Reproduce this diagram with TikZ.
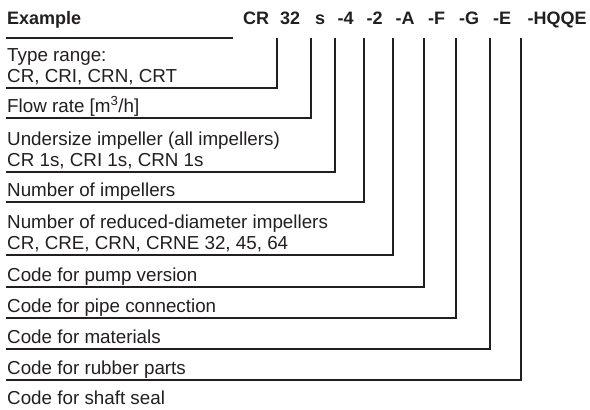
\documentclass[tikz,border=0pt]{standalone}
\usepackage{fontspec}
\setmainfont{Liberation Sans}
\definecolor{ink}{HTML}{231F20}
\begin{document}
\begin{tikzpicture}[x=1pt,y=-1pt,
  lbl/.style={anchor=base west, inner sep=0pt, font=\fontsize{18.8}{21}\selectfont, text=ink, align=left},
  hdr/.style={anchor=base west, inner sep=0pt, font=\fontsize{18}{21}\selectfont\bfseries, text=ink},
  sep/.style={draw=ink, line width=2pt, line join=miter}]
\useasboundingbox (0,0) rectangle (590,410);
\fill[white] (0,0) rectangle (590,410);

% header
\node[hdr] (ex) at (7,24) {Example};
\node[hdr] (kCR) at (243,24) {CR};
\node[hdr] (k32) at (280,24) {32};
\node[hdr] (ks) at (315,24) {s};
\node[hdr] (k4) at (337.5,24) {-4};
\node[hdr] (k2) at (366.5,24) {-2};
\node[hdr] (kA) at (395.5,24) {-A};
\node[hdr] (kF) at (428,24) {-F};
\node[hdr] (kG) at (459,24) {-G};
\node[hdr] (kE) at (493,24) {-E};
\node[hdr] (kH) at (527.5,24) {-HQQE};

% labels
\node[lbl] (r1) at (7,82) {Type range:\\CR, CRI, CRN, CRT};
\node[lbl] (r2) at (7,112) {Flow rate [m\textsuperscript{3}/h]};
\node[lbl] (r3) at (7,166) {Undersize impeller (all impellers)\\CR 1s, CRI 1s, CRN 1s};
\node[lbl] (r4) at (7,196) {Number of impellers};
\node[lbl] (r5) at (7,249) {Number of reduced-diameter impellers\\CR, CRE, CRN, CRNE 32, 45, 64};
\node[lbl] (r6) at (7,281) {Code for pump version};
\node[lbl] (r7) at (7,312) {Code for pipe connection};
\node[lbl] (r8) at (7,343) {Code for materials};
\node[lbl] (r9) at (7,374) {Code for rubber parts};
\node[lbl] (r10) at (7,404) {Code for shaft seal};

% coordinates
\coordinate (h0) at (6,38);
\coordinate (h1) at (233,38);
\coordinate (t1) at (277,38); \coordinate (e1) at (6,88);
\coordinate (t2) at (311,38); \coordinate (e2) at (6,118);
\coordinate (t3) at (335,38); \coordinate (e3) at (6,172);
\coordinate (t4) at (364,38); \coordinate (e4) at (6,202);
\coordinate (t5) at (393,38); \coordinate (e5) at (6,255);
\coordinate (t6) at (424,38); \coordinate (e6) at (6,287);
\coordinate (t7) at (456,38); \coordinate (e7) at (6,318);
\coordinate (t8) at (490,38); \coordinate (e8) at (6,349);
\coordinate (t9) at (521,38); \coordinate (e9) at (6,380);

\draw[sep] (h0) -- (h1);
\foreach \i in {1,...,9} {
  \draw[sep] (t\i) |- (e\i);
}
\end{tikzpicture}
\end{document}
